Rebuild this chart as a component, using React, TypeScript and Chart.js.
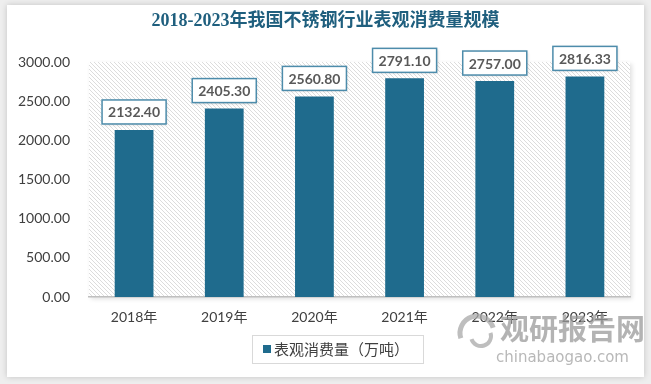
import React, { useEffect, useRef } from "react";
import { Chart, registerables } from "chart.js";

Chart.register(...registerables);

const TITLE = "2018-2023年我国不锈钢行业表观消费量规模";
const categories = ["2018年", "2019年", "2020年", "2021年", "2022年", "2023年"];
const consumption = [2132.4, 2405.3, 2560.8, 2791.1, 2757.0, 2816.33];
const seriesName = "表观消费量（万吨）";
const yTicksMin = 0;
const yTicksMax = 3000;
const yTickStep = 500;

const BAR_COLOR = "#1f6b8d";

function makeHatch(ctx: CanvasRenderingContext2D) {
  const c = document.createElement("canvas");
  c.width = 4;
  c.height = 4;
  const g = c.getContext("2d")!;
  g.fillStyle = "#ffffff";
  g.fillRect(0, 0, 4, 4);
  g.strokeStyle = "#dcdcdc";
  g.lineWidth = 1;
  g.beginPath();
  g.moveTo(-1, -1);
  g.lineTo(5, 5);
  g.moveTo(-1, 3);
  g.lineTo(1, 5);
  g.moveTo(3, -1);
  g.lineTo(5, 1);
  g.stroke();
  return ctx.createPattern(c, "repeat");
}

const decorPlugin = {
  id: "decor",
  beforeDraw(chart: any) {
    const ctx: CanvasRenderingContext2D = chart.ctx;
    const W = chart.width;
    const H = chart.height;
    ctx.save();
    ctx.fillStyle = "#eeeeee";
    ctx.fillRect(0, 0, W, H);
    ctx.shadowColor = "rgba(0,0,0,0.18)";
    ctx.shadowBlur = 6;
    ctx.fillStyle = "#ffffff";
    ctx.fillRect(7, 5, W - 14, H - 12);
    ctx.restore();

    // hatched plot area
    const a = chart.chartArea;
    ctx.save();
    ctx.shadowColor = "rgba(0,0,0,0.12)";
    ctx.shadowBlur = 4;
    ctx.shadowOffsetX = 2;
    ctx.shadowOffsetY = 2;
    const pat = makeHatch(ctx);
    ctx.fillStyle = pat || "#f4f4f4";
    ctx.fillRect(a.left, a.top, a.right - a.left, a.bottom - a.top);
    ctx.restore();

    // title
    ctx.save();
    ctx.fillStyle = "#1f5f7e";
    ctx.font = 'bold 18px "Liberation Serif", "Noto Sans CJK SC", serif';
    ctx.textAlign = "center";
    ctx.textBaseline = "middle";
    ctx.fillText(TITLE, W / 2, 21);
    ctx.restore();
  },
  afterDatasetsDraw(chart: any) {
    const ctx: CanvasRenderingContext2D = chart.ctx;
    const meta = chart.getDatasetMeta(0);
    const data = chart.data.datasets[0].data as number[];
    ctx.save();
    ctx.font = 'bold 14px Lato, "Open Sans", sans-serif';
    meta.data.forEach((bar: any, i: number) => {
      const txt = data[i].toFixed(2);
      const tw = ctx.measureText(txt).width;
      const bw = tw + 12;
      const bh = 24;
      const x = bar.x - bw / 2;
      const y = bar.y - 6 - bh;
      ctx.save();
      ctx.shadowColor = "rgba(0,0,0,0.2)";
      ctx.shadowBlur = 3;
      ctx.shadowOffsetX = 1;
      ctx.shadowOffsetY = 1;
      ctx.fillStyle = "#ffffff";
      ctx.fillRect(x, y, bw, bh);
      ctx.restore();
      ctx.strokeStyle = "#4d8cab";
      ctx.lineWidth = 1.5;
      ctx.strokeRect(x, y, bw, bh);
      ctx.fillStyle = "#595959";
      ctx.textAlign = "center";
      ctx.textBaseline = "middle";
      ctx.fillText(txt, bar.x, y + bh / 2 + 1);
    });
    ctx.restore();
  },
  afterDraw(chart: any) {
    const ctx: CanvasRenderingContext2D = chart.ctx;
    // legend
    ctx.save();
    const lx = 252, ly = 335, lw = 171, lh = 28;
    ctx.fillStyle = "#ffffff";
    ctx.fillRect(lx, ly, lw, lh);
    ctx.strokeStyle = "#d9d9d9";
    ctx.lineWidth = 1;
    ctx.strokeRect(lx + 0.5, ly + 0.5, lw, lh);
    ctx.fillStyle = BAR_COLOR;
    ctx.fillRect(263, 345, 8, 8);
    ctx.fillStyle = "#404040";
    ctx.font = '15px "Noto Sans CJK SC", sans-serif';
    ctx.textBaseline = "middle";
    ctx.textAlign = "left";
    ctx.fillText(seriesName, 274, 349);
    ctx.restore();

    // watermark
    ctx.save();
    ctx.globalAlpha = 0.75;
    ctx.strokeStyle = "#a8a8a8";
    ctx.lineWidth = 5;
    ctx.beginPath();
    ctx.arc(477, 333, 17, Math.PI * 0.9, Math.PI * 1.9);
    ctx.stroke();
    ctx.lineWidth = 4;
    ctx.beginPath();
    ctx.arc(481, 336, 10, Math.PI * 1.9, Math.PI * 0.9);
    ctx.stroke();
    ctx.fillStyle = "#9a9a9a";
    ctx.font = 'bold 29px "Noto Sans CJK SC", sans-serif';
    ctx.textAlign = "left";
    ctx.textBaseline = "middle";
    ctx.fillText("观研报告网", 500, 329);
    ctx.font = '15px "DejaVu Sans", sans-serif';
    ctx.fillStyle = "#a0a0a0";
    ctx.fillText("chinabaogao.com", 496, 358);
    ctx.restore();
  },
};

export default function App() {
  const ref = useRef<HTMLCanvasElement | null>(null);
  useEffect(() => {
    document.body.style.margin = "0";
    const canvas = ref.current!;
    const chart = new Chart(canvas, {
      type: "bar",
      data: {
        labels: categories,
        datasets: [
          {
            label: seriesName,
            data: consumption,
            backgroundColor: BAR_COLOR,
            borderColor: "#3f86a8",
            borderWidth: 0,
            categoryPercentage: 1,
            barPercentage: 0.43,
          },
        ],
      },
      options: {
        animation: false,
        responsive: false,
        maintainAspectRatio: false,
        devicePixelRatio: 1,
        layout: { padding: { left: 0, right: 21, top: 62, bottom: 0 } },
        plugins: {
          legend: { display: false },
          title: { display: false },
          tooltip: { enabled: false },
        },
        scales: {
          x: {
            grid: { display: false, drawTicks: false },
            border: { display: true, color: "#bfbfbf", width: 1.5 },
            ticks: {
              color: "#404040",
              font: { family: 'Lato, "Noto Sans CJK SC", sans-serif', size: 14 },
              padding: 12,
            },
            afterFit(s: any) {
              s.height = 87;
            },
          },
          y: {
            min: yTicksMin,
            max: yTicksMax,
            grid: { display: false, drawTicks: false },
            border: { display: false },
            ticks: {
              stepSize: yTickStep,
              color: "#404040",
              font: { family: 'Lato, sans-serif', size: 14 },
              padding: 19,
              callback: (v: any) => Number(v).toFixed(2),
            },
            afterFit(s: any) {
              s.width = 89;
            },
          },
        },
      },
      plugins: [decorPlugin],
    });
    return () => chart.destroy();
  }, []);
  return (
    <div style={{ width: 651, height: 384, position: "relative" }}>
      <canvas ref={ref} width={651} height={384} style={{ display: "block" }} />
    </div>
  );
}
